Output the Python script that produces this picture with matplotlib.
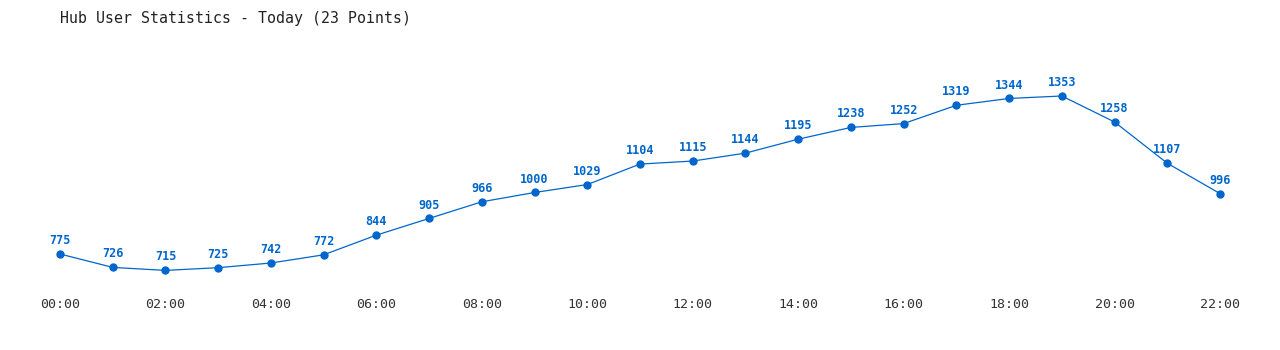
import matplotlib
matplotlib.use("Agg")
import matplotlib.pyplot as plt

hours = list(range(23))
users = [775, 726, 715, 725, 742, 772, 844, 905, 966, 1000, 1029, 1104,
         1115, 1144, 1195, 1238, 1252, 1319, 1344, 1353, 1258, 1107, 996]
tick_hours = list(range(0, 23, 2))
tick_labels = [f"{h:02d}:00" for h in tick_hours]

color = "#0066cc"
plt.rcParams["font.family"] = "DejaVu Sans Mono"

fig = plt.figure(figsize=(12.8, 3.5), dpi=100)
ax = fig.add_axes([60 / 1280, 65 / 350, 1160 / 1280, 245 / 350])
ax.plot(hours, users, color=color, linewidth=0.9, marker="o", markersize=5, clip_on=False)
for h, u in zip(hours, users):
    ax.annotate(str(u), (h, u), xytext=(0, 5), textcoords="offset points",
                ha="center", va="bottom", fontsize=8.5, fontweight="bold", color=color)

ax.set_xlim(0, 22)
ax.set_ylim(661.6, 1557.8)
ax.set_xticks(tick_hours)
ax.set_xticklabels(tick_labels, fontsize=9.5, color="#333333")
ax.set_yticks([])
ax.tick_params(axis="x", length=0, pad=9)
for s in ax.spines.values():
    s.set_visible(False)

fig.text(60 / 1280, 1 - 18 / 350, "Hub User Statistics - Today (23 Points)",
         fontsize=10.7, color="#222222", ha="left", va="center")

fig.savefig("out.png", dpi=100)
